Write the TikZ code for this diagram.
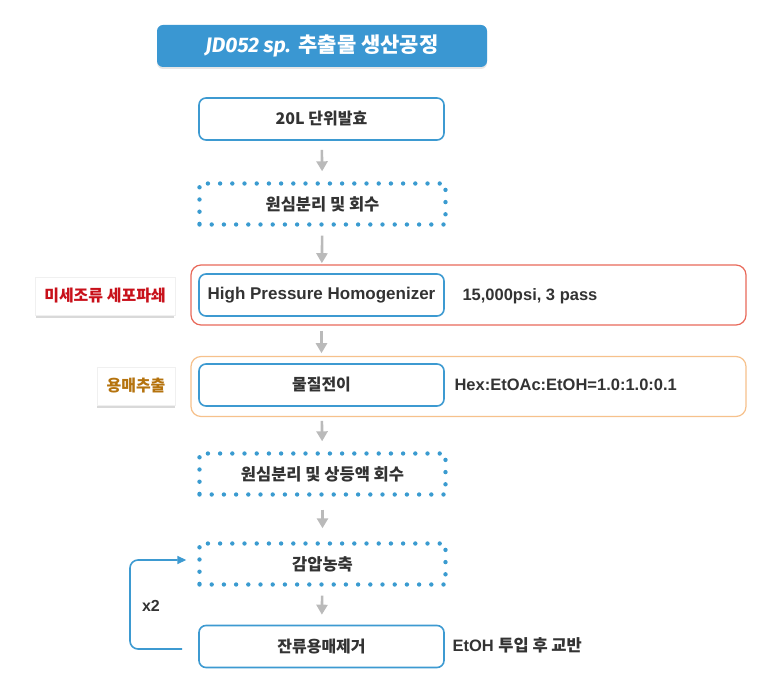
\documentclass[tikz,border=0pt]{standalone}
\usepackage{fontspec}
\setmainfont{Liberation Sans}
\newfontfamily\kr{Noto Sans CJK KR}
\newfontfamily\fira{Fira Sans}
\usetikzlibrary{arrows.meta,shadows}
\definecolor{boxblue}{HTML}{3D9AD1}
\definecolor{titleblue}{HTML}{3A97D2}
\definecolor{dotblue}{HTML}{3A9BD0}
\definecolor{redline}{HTML}{E8695A}
\definecolor{orangeline}{HTML}{F6C18C}
\definecolor{labred}{HTML}{C8101A}
\definecolor{laborange}{HTML}{B5730E}
\definecolor{txt}{HTML}{333333}
\tikzset{
  stepbox/.style={draw=boxblue, line width=1.6pt, rounded corners=7pt, fill=white,
    minimum width=245pt, minimum height=42pt, text=txt, font=\kr\bfseries\fontsize{16}{19}\selectfont},
  dotbox/.style={draw=dotblue, line width=4.4pt, dash pattern=on 0pt off 12.2pt, line cap=round,
    minimum width=246pt, minimum height=41pt, text=txt, font=\kr\bfseries\fontsize{16.5}{19}\selectfont},
  groupbox/.style={line width=1.2pt, rounded corners=10pt, fill=white,
    minimum width=555pt, minimum height=60pt},
  flowarrow/.style={draw=black!27, line width=2.6pt, -{Triangle[width=11pt,length=10pt]},
    shorten <=9pt, shorten >=10pt},
  sidetext/.style={anchor=west, text=txt, font=\bfseries\fontsize{16.5}{19}\selectfont},
  sidelabel/.style={fill=white, draw=black!6, line width=0.8pt, minimum height=38pt, inner xsep=6pt,
    drop shadow={opacity=0.3, shadow xshift=0pt, shadow yshift=-3pt, shadow scale=0.99},
    font=\kr\bfseries\fontsize{16}{19}\selectfont},
  loopline/.style={draw=boxblue, line width=1.6pt, rounded corners=8pt, -{Triangle[width=8pt,length=9pt]}},
}
\begin{document}
\begin{tikzpicture}[x=1pt,y=-1pt]
\useasboundingbox (0,0) rectangle (760,684);
% title
\node[fill=titleblue, rounded corners=6pt, minimum width=330pt, minimum height=42pt,
  drop shadow={opacity=0.2, shadow xshift=0pt, shadow yshift=-2pt},
  text=white, font=\bfseries\fontsize{21}{24}\selectfont] (title) at (322,46)
  {{\fira\itshape JD052 sp.} {\kr 추출물 생산공정}};
% group boxes
\node[groupbox, draw=redline] (grpred) at (468.5,295) {};
\node[groupbox, draw=orangeline] (grporange) at (468.5,386.5) {};
% steps
\node[stepbox] (ferm) at (321.5,119) {20L 단위발효};
\node[dotbox] (cent1) at (322.5,204) {원심분리 및 회수};
\node[stepbox, font=\bfseries\fontsize{17}{20}\selectfont] (homog) at (321.5,295) {High Pressure Homogenizer};
\node[stepbox] (trans) at (321.5,385) {물질전이};
\node[dotbox] (cent2) at (322.5,474) {원심분리 및 상등액 회수};
\node[dotbox] (conc) at (322.5,564) {감압농축};
\node[stepbox] (remove) at (321.5,646.5) {잔류용매제거};
% side texts
\node[sidetext] (psi) at (459,296) {15,000psi, 3 pass};
\node[sidetext] (ratio) at (451,385) {Hex:EtOAc:EtOH=1.0:1.0:0.1};
\node[sidetext] (etoh) at (449,645) {EtOH {\kr 투입 후 교반}};
% side labels
\node[sidelabel, text=labred, minimum width=140pt] (lab1) at (105,296) {미세조류 세포파쇄};
\node[sidelabel, text=laborange, minimum width=78pt] (lab2) at (136,386) {용매추출};
% arrows
\draw[flowarrow] (ferm) -- (cent1);
\draw[flowarrow] (cent1) -- (homog);
\draw[flowarrow, shorten <=14pt] (homog) -- (trans);
\draw[flowarrow, shorten <=14pt] (trans) -- (cent2);
\draw[flowarrow, shorten <=13pt, shorten >=13pt] (cent2) -- (conc);
\draw[flowarrow] (conc) -- (remove);
% loop
\coordinate (loopa) at ([xshift=-16pt,yshift=-2.5pt]remove.west);
\coordinate (loopb) at ([xshift=-11pt,yshift=4pt]conc.west);
\coordinate (loopx) at (130,600);
\draw[loopline] (loopa) -- (loopa -| loopx) -- (loopb -| loopx) -- (loopb);
\node[text=txt, font=\bfseries\fontsize{16}{19}\selectfont] (times) at (151,606) {x2};
\end{tikzpicture}
\end{document}
